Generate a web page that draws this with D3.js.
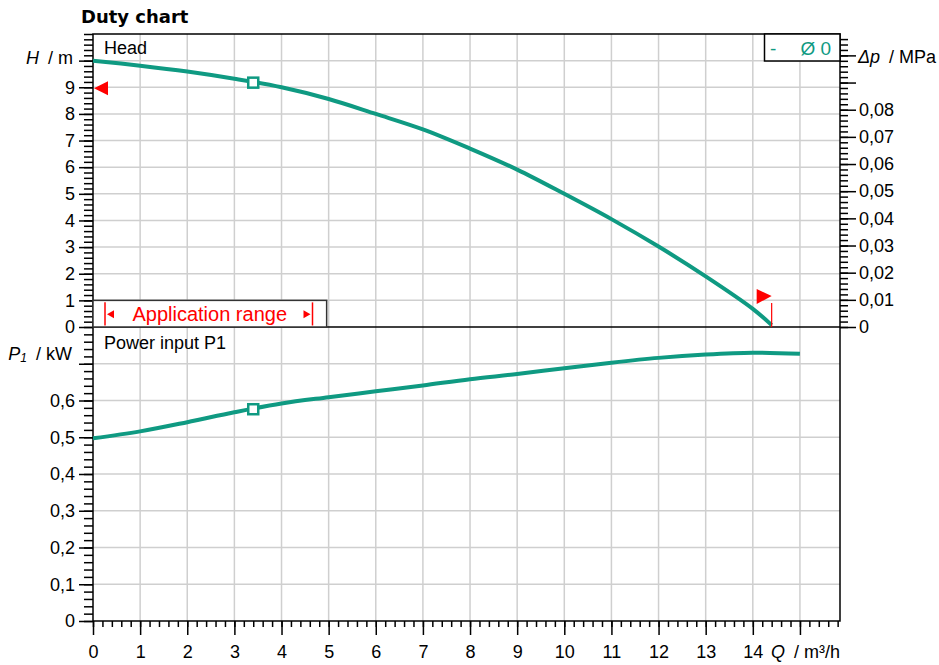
<!DOCTYPE html>
<html>
<head>
<meta charset="utf-8">
<script src="https://cdn.jsdelivr.net/npm/d3@7"></script>
<style>
  html, body { margin: 0; padding: 0; background: #fff; }
  svg { display: block; }
  text { font-family: "Liberation Sans", Arial, sans-serif; }
</style>
</head>
<body>
<div id="duty_chart"></div>
<script>
// ── data ──────────────────────────────────────────────────────────────────
const headQ = [0, 1, 2, 3, 4, 5, 6, 7, 8, 9, 10, 11, 12, 13, 14, 14.4];
const headH = [10.0, 9.81, 9.59, 9.32, 9.0, 8.56, 8.0, 7.42, 6.70, 5.91, 5.0, 4.05, 3.02, 1.9, 0.68, 0.07];

const powerQ = [0, 1, 2, 3, 4, 5, 6, 7, 8, 9, 10, 11, 12, 13, 14, 15];
const powerP = [0.497, 0.516, 0.541, 0.568, 0.592, 0.609, 0.625, 0.641, 0.658, 0.672, 0.688, 0.703, 0.716, 0.725, 0.730, 0.727];

const dutyQ = [3.4];           // operating point (square markers)
const headLimit = [9];         // red triangle on H axis
const qLimit = [14.4];         // red triangle / line at max Q
const appRange = [0, 5];       // application range box, Q from..to

const headTicks = d3.range(0, 11, 1);                 // 0..10
const headLabels = ['0','1','2','3','4','5','6','7','8','9',''];
const mpaTicks = d3.range(0, 0.1001, 0.01);
const powerTicks = d3.range(0, 0.71, 0.1);
const qTicks = d3.range(0, 16, 1);

const legendLabel = ['-', 'Ø 0'];

// ── setup ─────────────────────────────────────────────────────────────────
const width = 939, height = 665;
const teal = '#0f9a82', grid = '#cfcfcf';
const m_per_mpa = 1 / 0.00980665;

const comma = d3.formatLocale({ decimal: ',', thousands: '.', grouping: [3], currency: ['', ''] });
const fmt1 = comma.format('.1f'), fmt2 = comma.format('.2f');

const svg = d3.select('#duty_chart').append('svg')
  .attr('viewBox', [0, 0, width, height])
  .attr('width', width)
  .attr('height', height);

const x = d3.scaleLinear().domain([0, 15.85]).range([93, 840]);
const yH = d3.scaleLinear().domain([0, 11]).range([327, 34]);
const yMPa = d3.scaleLinear().domain([0, 11 / m_per_mpa]).range([327, 34]);
const yP = d3.scaleLinear().domain([0, 0.8]).range([621, 327]);

const    gridG = svg.append('g').attr('id', 'grid');
const   framesG = svg.append('g').attr('id', 'frames');
const    axesG = svg.append('g').attr('id', 'axes');
const  curvesG = svg.append('g').attr('id', 'curves');
const  extrasG = svg.append('g').attr('id', 'extras');

// title
svg.append('text')
  .attr('x', 81).attr('y', 22.5)
  .style('font-family', '"DejaVu Sans", Verdana, sans-serif')
  .style('font-weight', 'bold')
  .style('font-size', '18px')
  .text('Duty chart');

// ── grid ──────────────────────────────────────────────────────────────────
gridG.attr('stroke', grid).attr('stroke-width', 1.5);

gridG.selectAll('line.vx')
  .data(qTicks.slice(1))
  .join('line')
  .attr('x1', d => x(d)).attr('x2', d => x(d))
  .attr('y1', yH(11)).attr('y2', yP(0));

gridG.selectAll('line.hh')
  .data(headTicks.slice(1))
  .join('line')
  .attr('x1', x(0)).attr('x2', x(15.85))
  .attr('y1', d => yH(d)).attr('y2', d => yH(d));

gridG.selectAll('line.hp')
  .data(powerTicks.slice(1))
  .join('line')
  .attr('class', 'hp')
  .attr('x1', x(0)).attr('x2', x(15.85))
  .attr('y1', d => yP(d)).attr('y2', d => yP(d));

// ── axes ──────────────────────────────────────────────────────────────────
function styleAxis(g) {
  g.select('.domain').remove();
  g.selectAll('line').attr('stroke', '#000').attr('stroke-width', 1.5);
  g.selectAll('text').style('font-family', '"Liberation Sans", Arial, sans-serif').style('font-size', '18px').attr('fill', '#000');
}

// head, left
axesG.append('g').attr('transform', `translate(${x(0)},0)`)
  .call(d3.axisLeft(yH).tickValues(d3.range(0, 11.01, 0.2)).tickSize(9).tickFormat(''))
  .call(styleAxis);
axesG.append('g').attr('transform', `translate(${x(0)},0)`)
  .call(d3.axisLeft(yH).tickValues(headTicks).tickSize(14).tickPadding(4).tickFormat((d, i) => headLabels[i]))
  .call(styleAxis);

// pressure, right
axesG.append('g').attr('transform', `translate(${x(15.85)},0)`)
  .call(d3.axisRight(yMPa).tickValues(d3.range(0, 0.1075, 0.002)).tickSize(8).tickFormat(''))
  .call(styleAxis);
axesG.append('g').attr('transform', `translate(${x(15.85)},0)`)
  .call(d3.axisRight(yMPa).tickValues(mpaTicks).tickSize(16).tickPadding(3)
    .tickFormat(d => d === 0 ? '0' : (d > 0.085 ? '' : fmt2(d))))
  .call(styleAxis);

// power, left
axesG.append('g').attr('transform', `translate(${x(0)},0)`)
  .call(d3.axisLeft(yP).tickValues(d3.range(0, 0.8, 0.02)).tickSize(9).tickFormat(''))
  .call(styleAxis);
axesG.append('g').attr('transform', `translate(${x(0)},0)`)
  .call(d3.axisLeft(yP).tickValues(powerTicks).tickSize(14).tickPadding(4)
    .tickFormat(d => d === 0 ? '0' : (d > 0.65 ? '' : fmt1(d))))
  .call(styleAxis);

// Q, bottom
axesG.append('g').attr('transform', `translate(0,${yP(0)})`)
  .call(d3.axisBottom(x).tickValues(d3.range(0, 15.85, 0.2)).tickSize(6).tickFormat(''))
  .call(styleAxis);
axesG.append('g').attr('transform', `translate(0,${yP(0)})`)
  .call(d3.axisBottom(x).tickValues(qTicks).tickSize(14).tickPadding(10).tickFormat(d => d < 15 ? d : ''))
  .call(styleAxis);

// frames
framesG.attr('stroke', '#000').attr('stroke-width', 1.5).attr('fill', 'none');
framesG.append('rect')
  .attr('x', x(0)).attr('y', yH(11))
  .attr('width', x(15.85) - x(0)).attr('height', yP(0) - yH(11));
framesG.append('line')
  .attr('x1', x(0)).attr('x2', x(15.85))
  .attr('y1', yH(0)).attr('y2', yH(0));

// axis titles
const t1 = axesG.append('text').attr('x', 73).attr('y', yH(10)).attr('dy', '0.2em')
  .attr('text-anchor', 'end').style('font-size', '18px');
t1.append('tspan').style('font-style', 'italic').text('H');
t1.append('tspan').text('\u2002/ m');

const t2 = axesG.append('text').attr('x', 72).attr('y', yP(0.7) - 10).attr('dy', '0.35em')
  .attr('text-anchor', 'end').style('font-size', '18px');
t2.append('tspan').style('font-style', 'italic').text('P');
t2.append('tspan').style('font-style', 'italic').style('font-size', '12px').attr('dy', '2').text('1');
t2.append('tspan').attr('dy', '-2').text('\u2002/ kW');

const t3 = axesG.append('text').attr('x', 858).attr('y', yMPa(0.1)).attr('dy', '0.45em')
  .style('font-size', '18px');
t3.append('tspan').style('font-style', 'italic').text('\u0394p');
t3.append('tspan').text('\u2002/ MPa');

const t4 = axesG.append('text').attr('x', x(15.85)).attr('y', yP(0) + 24).attr('dy', '0.71em')
  .attr('text-anchor', 'end').style('font-size', '18px');
t4.append('tspan').style('font-style', 'italic').text('Q');
t4.append('tspan').text('\u2002/ m\u00b3/h');

// panel labels
axesG.append('text').attr('x', 104).attr('y', 48).attr('dy', '0.35em').style('font-size', '18px').text('Head');
axesG.append('text').attr('x', 104).attr('y', 343).attr('dy', '0.35em').style('font-size', '18px').text('Power input P1');

// ── curves ────────────────────────────────────────────────────────────────
const headData = headQ.map((q, i) => [q, headH[i]]);
const powerData = powerQ.map((q, i) => [q, powerP[i]]);

curvesG.append('path')
  .datum(headData)
  .attr('fill', 'none').attr('stroke', teal).attr('stroke-width', 4)
  .attr('d', d3.line().x(d => x(d[0])).y(d => yH(d[1])).curve(d3.curveCatmullRom.alpha(0.5)));

curvesG.append('path')
  .datum(powerData)
  .attr('fill', 'none').attr('stroke', teal).attr('stroke-width', 4)
  .attr('d', d3.line().x(d => x(d[0])).y(d => yP(d[1])).curve(d3.curveCatmullRom.alpha(0.5)));

// duty point markers, interpolated on the curves
const headAt = q => d3.scaleLinear().domain(headQ).range(headH)(q);
const powerAt = q => d3.scaleLinear().domain(powerQ).range(powerP)(q);

curvesG.selectAll('rect.duty')
  .data(dutyQ.flatMap(q => [[x(q), yH(headAt(q)) + 0.5], [x(q), yP(powerAt(q)) + 0.5]]))
  .join('rect')
  .attr('x', d => d[0] - 5).attr('y', d => d[1] - 5)
  .attr('width', 10).attr('height', 10)
  .attr('fill', '#fff').attr('stroke', teal).attr('stroke-width', 2.5);

// ── extras: limits, legend, application range ────────────────────────────
extrasG.selectAll('path.hlim')
  .data(headLimit)
  .join('path')
  .attr('d', d => `M${x(0) + 1},${yH(d) + 1}L${x(0) + 15},${yH(d) - 6}L${x(0) + 15},${yH(d) + 8}Z`)
  .attr('fill', '#ff0000');

extrasG.selectAll('path.qlim')
  .data(qLimit)
  .join('path')
  .attr('d', d => `M${x(d) - 15},${yH(0) - 38}L${x(d)},${yH(0) - 31}L${x(d) - 15},${yH(0) - 23}Z`)
  .attr('fill', '#ff0000');

extrasG.selectAll('line.qlim')
  .data(qLimit)
  .join('line')
  .attr('x1', d => x(d)).attr('x2', d => x(d))
  .attr('y1', yH(0) - 24).attr('y2', yH(0))
  .attr('stroke', '#ff0000').attr('stroke-width', 1.2);

// legend
extrasG.append('rect')
  .attr('x', 764.5).attr('y', yH(11))
  .attr('width', x(15.85) - 764.5).attr('height', 27)
  .attr('fill', '#fff').attr('stroke', '#000').attr('stroke-width', 1.5);
extrasG.append('text').attr('x', 770).attr('y', 48).attr('dy', '0.35em')
  .style('font-size', '19px').attr('fill', teal).text(legendLabel[0]);
extrasG.append('text').attr('x', 831).attr('y', 48).attr('dy', '0.35em')
  .attr('text-anchor', 'end')
  .style('font-size', '19px').attr('fill', teal).text(legendLabel[1]);

// application range
const arTop = yH(1);
extrasG.append('rect')
  .attr('x', x(appRange[0])).attr('y', arTop)
  .attr('width', x(appRange[1]) - x(appRange[0]) - 2).attr('height', yH(0) - arTop)
  .attr('fill', '#fff').attr('stroke', '#333').attr('stroke-width', 1.5);

const arL = 105, arR = 312.5, arMid = (arTop + yH(0)) / 2 + 0.5;
extrasG.selectAll('line.arbar')
  .data([arL, arR])
  .join('line')
  .attr('x1', d => d).attr('x2', d => d)
  .attr('y1', arTop + 2).attr('y2', yH(0) - 1.5)
  .attr('stroke', '#ff0000').attr('stroke-width', 1.5);
extrasG.append('path')
  .attr('d', `M${arL + 2},${arMid}L${arL + 9},${arMid - 4}L${arL + 9},${arMid + 4}Z`)
  .attr('fill', '#ff0000');
extrasG.append('path')
  .attr('d', `M${arR - 2},${arMid}L${arR - 9},${arMid - 4}L${arR - 9},${arMid + 4}Z`)
  .attr('fill', '#ff0000');
extrasG.append('text')
  .attr('x', (arL + arR) / 2 + 1).attr('y', arMid).attr('dy', '0.35em')
  .attr('text-anchor', 'middle')
  .style('font-size', '20px').attr('fill', '#ff0000')
  .text('Application range');
</script>
</body>
</html>
